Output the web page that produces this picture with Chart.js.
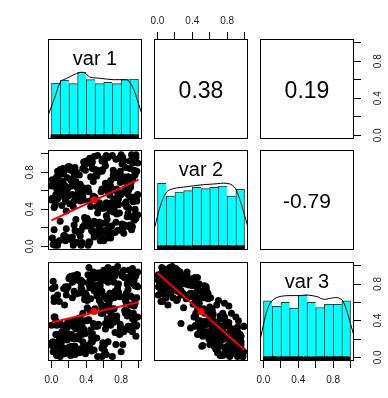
<!DOCTYPE html>
<html><head><meta charset="utf-8">
<script src="https://cdn.jsdelivr.net/npm/chart.js@4.4.0/dist/chart.umd.min.js"></script>
<style>
html,body{margin:0;padding:0;background:#fff;}
#wrap{position:relative;width:388px;height:398px;overflow:hidden;background:#fff;}
#wrap canvas{position:absolute;}
</style></head><body><div id="wrap"></div>
<script>
// ---------------- data ----------------
const varNames = ['var 1', 'var 2', 'var 3'];

const var1 = [0.12,0.87,0.45,0.63,0.05,0.34,0.91,0.27,0.72,0.58,
0.19,0.96,0.41,0.08,0.67,0.53,0.30,0.83,0.15,0.76,
0.48,0.02,0.61,0.89,0.37,0.22,0.70,0.99,0.11,0.55,
0.80,0.26,0.64,0.43,0.93,0.07,0.51,0.35,0.74,0.17,
0.88,0.39,0.01,0.59,0.24,0.82,0.46,0.13,0.69,0.97,
0.32,0.57,0.78,0.09,0.44,0.66,0.21,0.85,0.52,0.04,
0.73,0.29,0.94,0.16,0.62,0.40,0.86,0.06,0.49,0.79,
0.23,0.68,0.36,0.98,0.14,0.56,0.81,0.03,0.42,0.75,
0.60,0.18,0.90,0.33,0.71,0.47,0.10,0.84,0.25,0.65,
0.38,0.95,0.54,0.20,0.77,0.00,0.31,0.92,0.58,0.12,
0.50,0.84,0.27,0.69,0.04,0.41,0.97,0.16,0.63,0.36,
0.79,0.08,0.55,0.90,0.22,0.46,0.73,0.33,0.99,0.14,
0.61,0.28,0.86,0.44,0.02,0.70,0.19,0.53,0.94,0.37,
0.11,0.76,0.48,0.25,0.88,0.57,0.06,0.66,0.39,0.83,
0.30,0.96,0.45,0.74,0.17,0.59,0.01,0.81,0.35,0.64,
0.89,0.21,0.52,0.09,0.71,0.43,0.93,0.26,0.67,0.05,
0.47,0.78,0.13,0.60,0.85,0.32,0.98,0.24,0.54,0.72,
0.07,0.42,0.91,0.18,0.65,0.50,0.29,0.87,0.03,0.56,
0.75,0.34,0.62,0.10,0.95,0.40,0.82,0.20,0.68,0.49,
0.15,0.58,0.92,0.38,0.77,0.23,0.64,0.00,0.86,0.44,
0.09,0.63,0.37,0.81,0.26,0.53,0.97,0.14,0.70,0.45,
0.88,0.02,0.59,0.32,0.76,0.19,0.48,0.93,0.06,0.67,
0.41,0.84,0.23,0.55,0.11,0.72,0.35,0.99,0.28,0.61,
0.04,0.79,0.46,0.17,0.90,0.52,0.31,0.66,0.13,0.86,
0.57,0.21,0.74,0.39,0.95,0.08,0.62,0.27,0.83,0.44,
0.16,0.69,0.51,0.01,0.87,0.34,0.58,0.92,0.24,0.75,
0.43,0.10,0.65,0.30,0.80,0.47,0.96,0.19,0.56,0.71,
0.05,0.38,0.85,0.60,0.22,0.91,0.49,0.12,0.68,0.33,
0.77,0.27,0.54,0.98,0.15,0.42,0.64,0.07,0.89,0.36,
0.62,0.18,0.82,0.50,0.03,0.73,0.29,0.94,0.40,0.58];

const var2 = [0.56,0.32,0.92,0.47,0.47,0.03,0.68,0.77,0.40,0.81,
0.09,0.77,0.22,0.72,0.55,0.82,0.04,0.75,0.82,0.46,
0.54,0.02,0.95,0.21,0.63,0.72,0.47,0.34,0.60,0.47,
0.99,0.23,0.63,0.05,0.90,0.81,0.24,0.58,0.26,0.38,
0.56,0.89,0.09,0.83,0.06,0.74,0.17,0.70,0.62,0.30,
0.60,0.41,0.95,0.06,0.95,0.19,0.46,0.61,0.76,0.72,
0.15,0.64,0.53,0.49,0.25,0.91,0.58,0.62,0.10,0.81,
0.71,0.09,0.54,0.49,0.78,0.45,0.89,0.04,0.63,0.35,
0.41,0.74,0.23,0.49,0.82,0.17,0.83,0.46,0.43,0.96,
0.23,0.82,0.13,0.84,0.51,0.50,0.15,0.99,0.08,0.44,
0.76,0.60,0.80,0.22,0.44,0.30,0.99,0.06,0.98,0.21,
0.69,0.68,0.21,0.84,0.08,0.89,0.50,0.67,0.56,0.80,
0.17,0.70,0.63,0.22,0.69,0.14,0.54,0.98,0.48,0.50,
0.67,0.54,0.70,0.01,0.75,0.25,0.75,0.44,0.82,0.14,
0.57,0.34,0.75,0.60,0.19,0.94,0.52,0.19,0.52,0.29,
0.61,0.86,0.13,0.65,0.37,0.59,0.21,0.77,0.46,0.56,
0.91,0.36,0.54,0.06,0.70,0.77,0.54,0.10,0.80,0.51,
0.01,0.92,0.53,0.57,0.15,0.53,0.80,0.43,0.42,0.16,
0.78,0.01,0.87,0.27,0.93,0.27,0.96,0.09,0.71,0.97,
0.12,0.62,0.32,0.88,0.58,0.65,0.09,0.65,0.48,0.49,
0.65,0.33,0.91,0.24,0.49,0.36,0.96,0.11,0.98,0.43,
0.36,0.67,0.44,0.61,0.17,0.86,0.15,0.72,0.54,0.38,
0.60,0.23,0.72,0.26,0.78,0.61,0.04,0.90,0.29,0.92,
0.01,0.73,0.89,0.08,0.92,0.43,0.59,0.20,0.84,0.43,
0.59,0.08,0.94,0.29,0.28,0.61,0.68,0.17,0.92,0.04,
0.59,0.47,0.13,0.72,0.72,0.17,0.92,0.18,0.56,0.62,
0.27,0.81,0.14,0.52,0.56,0.84,0.40,0.63,0.06,0.77,
0.69,0.31,0.85,0.15,0.82,0.64,0.27,0.64,0.65,0.11,
0.45,0.85,0.17,0.81,0.66,0.01,0.60,0.51,0.41,0.84,
0.46,0.63,0.19,0.83,0.18,0.74,0.04,0.75,0.92,0.25];

const var3 = [0.28,0.80,0.16,0.56,0.40,0.76,0.57,0.03,0.82,0.10,
0.77,0.59,0.62,0.12,0.50,0.34,0.90,0.31,0.04,0.76,
0.37,0.83,0.14,0.95,0.40,0.02,0.65,0.93,0.14,0.62,
0.06,0.72,0.42,0.98,0.28,0.04,0.91,0.25,0.93,0.32,
0.74,0.04,0.75,0.16,0.82,0.30,0.88,0.19,0.47,0.89,
0.43,0.58,0.25,0.61,0.11,0.92,0.25,0.65,0.21,0.13,
0.89,0.38,0.65,0.35,0.90,0.09,0.64,0.25,0.86,0.26,
0.21,0.95,0.48,0.65,0.07,0.71,0.28,0.61,0.41,0.68,
0.67,0.19,0.95,0.29,0.38,0.79,0.01,0.87,0.34,0.17,
0.63,0.56,0.92,0.11,0.71,0.35,0.70,0.34,0.84,0.35,
0.34,0.51,0.12,0.86,0.44,0.54,0.34,0.77,0.03,0.82,
0.36,0.16,0.86,0.30,0.88,0.07,0.72,0.09,0.77,0.10,
0.84,0.31,0.51,0.76,0.06,0.96,0.39,0.01,0.80,0.31,
0.17,0.73,0.21,0.89,0.34,0.88,0.02,0.59,0.26,0.95,
0.37,0.89,0.30,0.43,0.74,0.12,0.13,0.91,0.36,0.85,
0.49,0.07,0.91,0.25,0.66,0.41,0.97,0.20,0.63,0.25,
0.17,0.66,0.27,0.95,0.62,0.05,0.78,0.65,0.36,0.65,
0.68,0.11,0.67,0.36,0.82,0.53,0.06,0.87,0.44,0.78,
0.40,0.84,0.31,0.37,0.40,0.68,0.14,0.86,0.35,0.08,
0.57,0.53,0.87,0.07,0.70,0.12,0.96,0.16,0.59,0.51,
0.20,0.64,0.14,0.89,0.40,0.79,0.23,0.75,0.01,0.64,
0.83,0.17,0.48,0.36,0.99,0.10,0.93,0.42,0.35,0.70,
0.40,0.87,0.25,0.73,0.08,0.53,0.74,0.44,0.69,0.07,
0.77,0.32,0.22,0.68,0.33,0.67,0.20,0.96,0.06,0.70,
0.48,0.88,0.14,0.70,0.85,0.24,0.37,0.84,0.28,0.84,
0.28,0.53,0.92,0.13,0.45,0.82,0.01,0.92,0.39,0.45,
0.80,0.05,0.98,0.23,0.66,0.26,0.78,0.22,0.92,0.44,
0.05,0.68,0.48,0.88,0.10,0.47,0.73,0.25,0.39,0.83,
0.80,0.05,0.87,0.35,0.26,0.90,0.55,0.12,0.86,0.17,
0.52,0.32,0.94,0.21,0.65,0.27,0.90,0.48,0.13,0.72];

// histogram bins (mid points) and relative bar heights (count / max count)
const histMids = [0.05,0.15,0.25,0.35,0.45,0.55,0.65,0.75,0.85,0.95];
const hist1 = [0.84,0.88,0.83,1.00,0.89,0.83,0.85,0.83,0.89,0.90];
const hist2 = [1.00,0.81,0.87,0.89,0.94,0.92,0.94,0.96,0.81,0.91];
const hist3 = [0.91,0.83,0.89,0.80,1.00,0.89,0.81,0.86,0.86,0.91];

// density curves (scaled to max 1)
const dens1X = [-0.04,-0.025,0.04,0.105,0.175,0.25,0.33,0.385,0.44,0.56,0.71,0.845,0.88,0.94,1.0,1.04];
const dens1Y = [0.35,0.40,0.63,0.86,0.91,0.96,1.00,0.99,0.93,0.91,0.89,0.89,0.88,0.76,0.53,0.37];
const dens2X = [-0.04,-0.03,0.03,0.105,0.18,0.34,0.49,0.645,0.80,0.88,0.935,0.99,1.04];
const dens2Y = [0.33,0.35,0.65,0.87,0.92,0.95,0.975,0.99,1.00,0.95,0.80,0.57,0.34];
const dens3X = [-0.04,-0.03,0.02,0.075,0.15,0.27,0.42,0.50,0.615,0.69,0.77,0.85,0.905,0.96,1.02,1.04];
const dens3Y = [0.33,0.37,0.67,0.87,0.96,0.99,0.99,1.00,0.975,0.935,0.95,0.96,0.92,0.75,0.47,0.38];

// correlations
const corrLabels = ['0.38', '0.19', '-0.79'];   // r(1,2), r(1,3), r(2,3)

// linear fits [x0,y0,x1,y1] and means [x,y]
const fit12 = [0, 0.28, 1, 0.72];
const fit13 = [0, 0.38, 1, 0.60];
const fit23 = [0, 0.92, 1, 0.08];
const mean12 = [0.49, 0.50];
const mean13 = [0.49, 0.50];
const mean23 = [0.50, 0.50];

// axis ticks
const tickValues = [0, 0.2, 0.4, 0.6, 0.8, 1.0];
const tickLabels = ['0.0', '', '0.4', '', '0.8', ''];

// ---------------- layout / style ----------------
const FONT = "'Liberation Sans', Arial, sans-serif";
const M = 32;
const colLeft = [48, 154, 260];
const rowTop = [39, 150, 262];
const boxW = 94;
const boxH = [100, 100, 99];
const AMIN = -0.04, AMAX = 1.04;

const panelPlugin = {
  id: 'panelText',
  afterDatasetsDraw(chart, args, opts) {
    const {ctx, chartArea: a} = chart;
    ctx.save();
    ctx.strokeStyle = '#000';
    ctx.lineWidth = 1;
    ctx.strokeRect(a.left + 0.5, a.top + 0.5, a.width - 1, a.height - 1);
    if (opts && opts.text) {
      ctx.fillStyle = '#000';
      ctx.textAlign = 'center';
      ctx.textBaseline = 'alphabetic';
      ctx.font = opts.size + 'px ' + FONT;
      const x = chart.scales.x.getPixelForValue(0.5);
      const y = opts.kind === 'diag' ? a.top + 25.5 : (a.top + a.bottom) / 2 + opts.size * 0.4;
      ctx.fillText(opts.text, x, y);
    }
    ctx.restore();
  }
};

function axis(position, show, pad) {
  const vertical = position === 'left' || position === 'right';
  const cfg = {type: 'linear', position, min: AMIN, max: AMAX, offset: false, display: !!show,
               grid: {offset: false}};
  if (show) {
    Object.assign(cfg, {
      afterBuildTicks: s => { s.ticks = tickValues.map(v => ({value: v})); },
      afterFit: s => { if (vertical) s.width = M; else s.height = M; },
      grid: {display: true, offset: false, drawOnChartArea: false, drawTicks: true, tickLength: 7, color: '#000', lineWidth: 1},
      border: {display: false},
      ticks: {
        autoSkip: false, padding: pad, color: '#222',
        font: {family: FONT, size: 10},
        callback: (v, i) => tickLabels[i],
        minRotation: vertical ? 90 : 0, maxRotation: vertical ? 90 : 0,
        crossAlign: vertical ? 'center' : 'near'
      }
    });
  }
  return cfg;
}

function makePanel(r, c, spec) {
  const cv = document.createElement('canvas');
  const w = boxW + 2 * M, h = boxH[r] + 2 * M;
  cv.width = w; cv.height = h;
  cv.style.left = (colLeft[c] - M) + 'px';
  cv.style.top = (rowTop[r] - M) + 'px';
  cv.style.width = w + 'px'; cv.style.height = h + 'px';
  document.getElementById('wrap').appendChild(cv);
  const ax = spec.axes || {};
  const xPos = ax.top ? 'top' : 'bottom';
  const yPos = ax.left ? 'left' : 'right';
  const scales = {
    x: axis(xPos, ax.top || ax.bottom, ax.top ? 5 : 6),
    y: axis(yPos, ax.left || ax.right, ax.left ? 4 : 10),
    yh: {type: 'linear', min: 0, max: 1.5, display: false}
  };
  new Chart(cv, {
    type: 'scatter',
    data: {datasets: spec.datasets || []},
    options: {
      responsive: false, animation: false, devicePixelRatio: 1, events: [],
      layout: {padding: {left: ax.left ? 0 : M, right: ax.right ? 0 : M, top: ax.top ? 0 : M, bottom: ax.bottom ? 0 : M}},
      scales,
      plugins: {legend: {display: false}, tooltip: {enabled: false}, panelText: spec.text || {}}
    },
    plugins: [panelPlugin]
  });
}

function histDatasets(vals, hist, dx, dy) {
  return [
    {type: 'line', data: dx.map((x, i) => ({x, y: dy[i]})), yAxisID: 'yh',
     borderColor: '#000', borderWidth: 1, pointRadius: 0, tension: 0.35, clip: 0},
    {type: 'scatter', data: vals.map(v => ({x: v, y: 0.033})), yAxisID: 'yh',
     pointStyle: 'line', rotation: 90, pointRadius: 2, borderColor: '#000', borderWidth: 1.5},
    {type: 'bar', data: histMids.map((m, i) => ({x: m, y: hist[i]})), yAxisID: 'yh',
     backgroundColor: '#00FFFF', borderColor: '#333', barPercentage: 1, categoryPercentage: 1,
     borderSkipped: 'start',
     borderWidth: ctx => ({top: 1, left: 1, right: ctx.dataIndex === histMids.length - 1 ? 1 : 0, bottom: 0})}
  ];
}

function scatterDatasets(xs, ys, fit, mean) {
  return [
    {type: 'scatter', data: [{x: mean[0], y: mean[1]}], pointRadius: 3.5,
     backgroundColor: '#ff0000', borderColor: '#ff0000', borderWidth: 0},
    {type: 'line', data: [{x: fit[0], y: fit[1]}, {x: fit[2], y: fit[3]}],
     borderColor: '#ff0000', borderWidth: 2, pointRadius: 0},
    {type: 'scatter', data: xs.map((x, i) => ({x, y: ys[i]})), pointRadius: 3.5,
     backgroundColor: '#000', borderColor: '#000', borderWidth: 0}
  ];
}

// row 1
makePanel(0, 0, {datasets: histDatasets(var1, hist1, dens1X, dens1Y), text: {text: varNames[0], kind: 'diag', size: 20}});
makePanel(0, 1, {axes: {top: true}, text: {text: corrLabels[0], kind: 'corr', size: 23}});
makePanel(0, 2, {axes: {right: true}, text: {text: corrLabels[1], kind: 'corr', size: 23}});
// row 2
makePanel(1, 0, {axes: {left: true}, datasets: scatterDatasets(var1, var2, fit12, mean12)});
makePanel(1, 1, {datasets: histDatasets(var2, hist2, dens2X, dens2Y), text: {text: varNames[1], kind: 'diag', size: 20}});
makePanel(1, 2, {text: {text: corrLabels[2], kind: 'corr', size: 21}});
// row 3
makePanel(2, 0, {axes: {bottom: true}, datasets: scatterDatasets(var1, var3, fit13, mean13)});
makePanel(2, 1, {datasets: scatterDatasets(var2, var3, fit23, mean23)});
makePanel(2, 2, {axes: {bottom: true, right: true}, datasets: histDatasets(var3, hist3, dens3X, dens3Y), text: {text: varNames[2], kind: 'diag', size: 20}});
</script>
</body></html>
